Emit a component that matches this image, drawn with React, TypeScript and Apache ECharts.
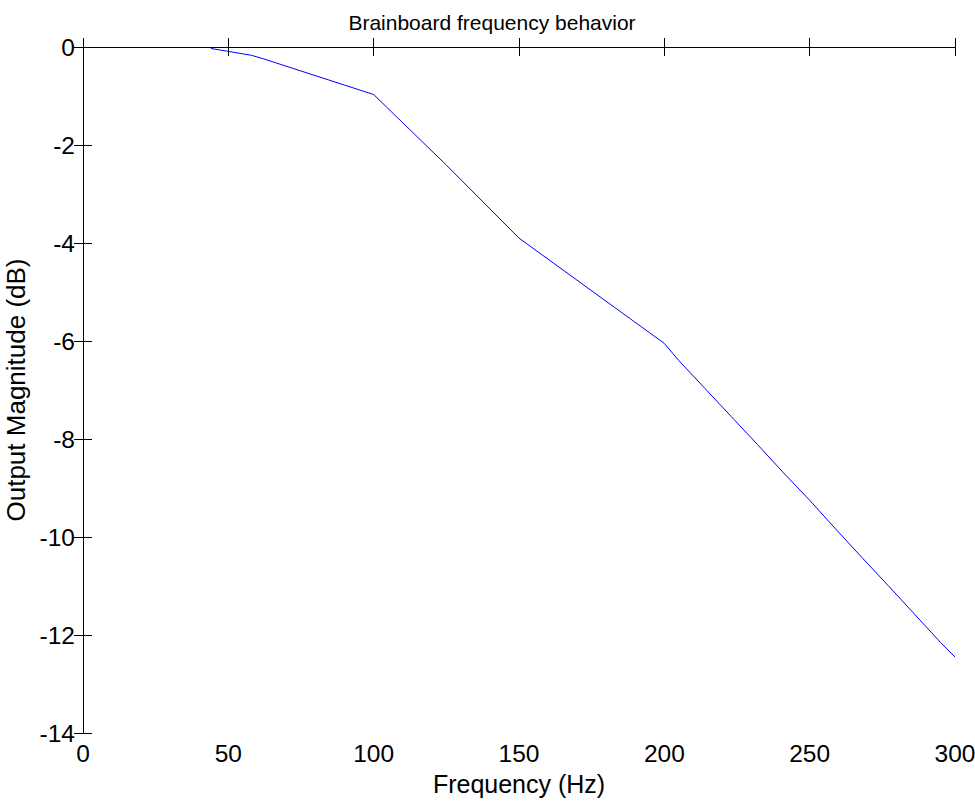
import React, { useEffect, useRef } from "react";
import * as echarts from "echarts";

const frequencies = [44, 49, 58, 62, 100, 125, 150, 200, 205, 214, 223, 232, 241, 250, 259, 268, 277, 286, 295, 300];
const magnitudes = [-0.03, -0.08, -0.17, -0.24, -0.97, -2.41, -3.9, -6.05, -6.4, -6.97, -7.54, -8.11, -8.69, -9.25, -9.84, -10.42, -10.99, -11.57, -12.15, -12.45];
const titleText = "Brainboard frequency behavior";
const xName = "Frequency (Hz)";
const yName = "Output Magnitude (dB)";

const FONT = "'Liberation Sans', Arial, Helvetica, sans-serif";

export default function App() {
  const ref = useRef<HTMLDivElement>(null);
  useEffect(() => {
    if (!ref.current) return;
    const chart = echarts.init(ref.current, undefined, { renderer: "svg" });
    const axisLine = { show: true, lineStyle: { color: "#000", width: 1 } };
    const tick = { show: true, inside: true, length: 9, lineStyle: { color: "#000", width: 1 } };
    chart.setOption({
      animation: false,
      backgroundColor: "#fff",
      title: {
        text: titleText,
        left: 487,
        top: 7,
        textAlign: "center",
        textStyle: { fontFamily: FONT, fontSize: 21, fontWeight: "normal", color: "#000" },
      },
      grid: { left: 83, right: 20, top: 47, bottom: 71, containLabel: false, outerBoundsMode: "none" },
      xAxis: [
        {
          type: "value",
          min: 0,
          max: 300,
          interval: 50,
          name: xName,
          nameLocation: "middle",
          nameGap: 38,
          nameTextStyle: { fontFamily: FONT, fontSize: 25, color: "#000" },
          axisLine,
          axisTick: tick,
          axisLabel: { fontFamily: FONT, fontSize: 24.5, color: "#000", margin: 8 },
          splitLine: { show: false },
        },
        {
          type: "value",
          position: "top",
          min: 0,
          max: 300,
          interval: 50,
          axisLine,
          axisTick: tick,
          axisLabel: { show: false },
          splitLine: { show: false },
        },
      ],
      yAxis: [
        {
          type: "value",
          min: -14,
          max: 0,
          interval: 2,
          name: yName,
          nameLocation: "middle",
          nameGap: 49,
          nameTextStyle: { fontFamily: FONT, fontSize: 26, color: "#000" },
          axisLine,
          axisTick: tick,
          axisLabel: { fontFamily: FONT, fontSize: 24.5, color: "#000", margin: 8 },
          splitLine: { show: false },
        },
        {
          type: "value",
          position: "right",
          min: -14,
          max: 0,
          interval: 2,
          axisLine,
          axisTick: tick,
          axisLabel: { show: false },
          splitLine: { show: false },
        },
      ],
      series: [
        {
          type: "line",
          data: frequencies.map((f, i) => [f, magnitudes[i]]),
          showSymbol: false,
          lineStyle: { color: "#0000ff", width: 1 },
          itemStyle: { color: "#0000ff" },
        },
      ],
    });
    return () => chart.dispose();
  }, []);
  return (
    <div
      ref={ref}
      style={{ position: "fixed", left: 0, top: 0, width: 975, height: 804 }}
    />
  );
}
